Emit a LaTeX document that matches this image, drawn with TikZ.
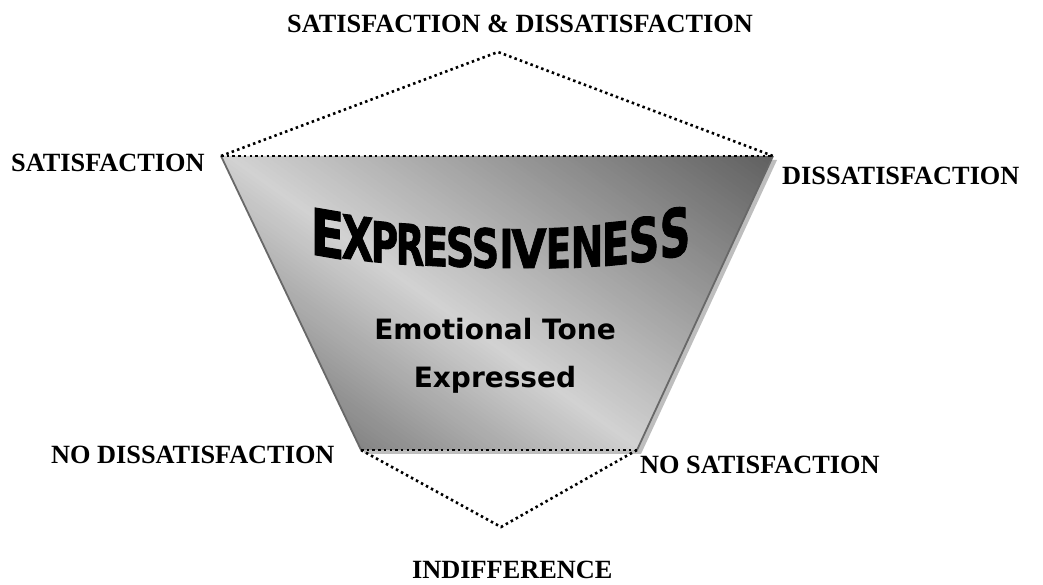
\documentclass[tikz,border=0pt]{standalone}
\usepackage{fontspec}
\setmainfont{Liberation Serif}
\newfontfamily\dv{DejaVu Sans}
\newfontfamily\dvheavy{DejaVu Sans}[BoldFeatures={FakeBold=1.5}]
\usepackage{graphicx}
\definecolor{sA}{HTML}{858585}
\definecolor{sB}{HTML}{D2D2D2}
\definecolor{sC}{HTML}{5E5E5E}
\definecolor{edge}{HTML}{686868}
\definecolor{shad}{HTML}{BEBEBE}
\tikzset{
  lab/.style={font=\fontsize{26.3}{30}\selectfont\bfseries, inner sep=0pt, anchor=base west},
  dots/.style={line width=2.6pt, dash pattern=on 2.5pt off 3.2pt, line cap=butt, black},
  sub/.style={font=\dv\fontsize{28}{32}\selectfont\bfseries, inner sep=0pt, anchor=base}
}
\begin{document}
\begin{tikzpicture}[x=1pt,y=1pt]
\useasboundingbox (0,0) rectangle (1043,585);
% corners
\coordinate (TL) at (221,429);
\coordinate (TR) at (773,429);
\coordinate (BR) at (637,135);
\coordinate (BL) at (361,135);
\coordinate (TA) at (498,533);
\coordinate (BA) at (501,58);
% shadow
\fill[shad] ([shift={(4,-4)}]TL) -- ([shift={(4,-4)}]TR) -- ([shift={(4,-4)}]BR) -- ([shift={(4,-4)}]BL) -- cycle;
% body with diagonal gradient (drawn as strips)
\begin{scope}
  \clip (TL) -- (TR) -- (BR) -- (BL) -- cycle;
  \begin{scope}[rotate=54.6]
    \foreach \p in {300,304,...,820}{
      \pgfmathsetmacro{\t}{\p<480 ? max(0,(\p-320)/160*100) : min(100,(\p-480)/320*100)}
      \ifdim\p pt<480pt
        \fill[sB!\t!sA] (\p,-480) rectangle ({\p+4.6},100);
      \else
        \fill[sC!\t!sB] (\p,-480) rectangle ({\p+4.6},100);
      \fi
    }
  \end{scope}
\end{scope}
\draw[edge, line width=1.8pt] (TL) -- (BL);
\draw[edge, line width=1.8pt] (TR) -- (BR);
% dotted lines
\draw[dots] (TL) -- (TR);
\draw[dots] (TL) -- (TA) -- (TR);
\draw[dots] (BL) -- (BR);
\draw[dots] (BL) -- (BA) -- (BR);
% EXPRESSIVENESS arched letters
\foreach \L/\cx/\cy/\w/\h/\k [count=\i] in {
  E/327.5/233.5/31/47/-0.17, X/357.5/238/29/44/-0.13, P/384.5/242.5/25/41/-0.10,
  R/410/244.5/26/41/-0.07, E/435/246.5/24/39/-0.05, S/460/247/26/40/-0.03,
  S/485.5/248/25/40/-0.01, I/506.5/248.5/13/39/0, V/529/248.5/32/39/0.02,
  E/558.5/248/23/40/0.04, N/587/246.5/30/41/0.07, E/615.5/243.5/25/43/0.10,
  S/644/239.5/28/45/0.14, S/675/232.5/28/49/0.20}
{
  \begin{scope}[shift={(\cx,585-\cy)}, yslant=\k]
    \node[transform shape, inner sep=0pt] (ltr\i) at (0,0)
      {\resizebox{1.1\dimexpr\w pt\relax}{\h pt}{\dvheavy\bfseries \L}};
  \end{scope}
}
% subtitle
\node[sub] (emo) at (495,245) {Emotional Tone};
\node[sub] (exp) at (495,197) {Expressed};
% labels
\node[lab] (sd) at (287,552) {SATISFACTION \& DISSATISFACTION};
\node[lab] (sat) at (11,413) {SATISFACTION};
\node[lab] (dis) at (782,400) {DISSATISFACTION};
\node[lab] (nodis) at (51,121) {NO DISSATISFACTION};
\node[lab] (nosat) at (640,111) {NO SATISFACTION};
\node[lab] (ind) at (412,6) {INDIFFERENCE};
\end{tikzpicture}
\end{document}
